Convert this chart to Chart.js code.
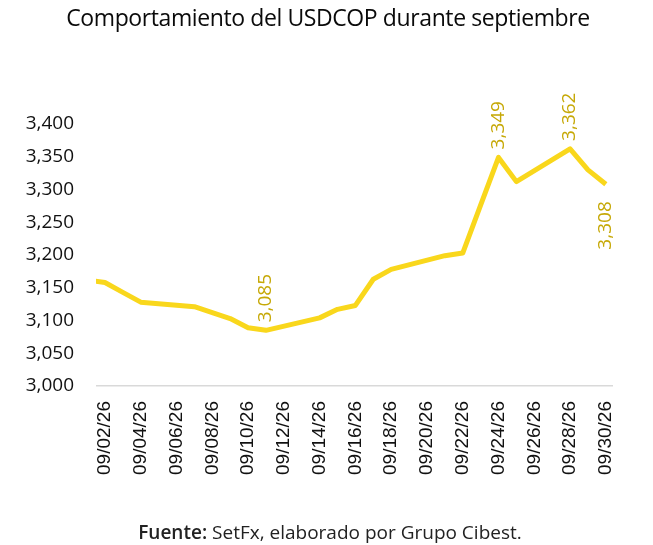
<!DOCTYPE html>
<html>
<head>
<meta charset="utf-8">
<script src="https://cdn.jsdelivr.net/npm/chart.js@4.4.1/dist/chart.umd.min.js"></script>
<style>
  html, body { margin: 0; padding: 0; background: #ffffff; }
  #wrap { position: relative; width: 653px; height: 545px; overflow: hidden; }
  #chart { position: absolute; left: 0; top: 0; }
  #title { position: absolute; left: 0; top: 2px; width: 656px; text-align: center;
           font-family: "Open Sans", sans-serif; font-size: 23px; font-weight: 500; letter-spacing: -0.4px;
           line-height: 30px; color: #0a0a0a; }
  #footer { position: absolute; left: 0; top: 519px; width: 660px; text-align: center;
            font-family: "Open Sans", sans-serif; font-size: 19px; line-height: 26px; color: #222; }
  #footer b { font-weight: 600; }
</style>
</head>
<body>
<div id="wrap">
  <canvas id="chart" width="653" height="545"></canvas>
  <div id="title">Comportamiento del USDCOP durante septiembre</div>
  <div id="footer"><b>Fuente:</b> SetFx, elaborado por Grupo Cibest.</div>
</div>
<script>
// Day of September (2026) and USDCOP close
const days   = [1, 2, 3, 4, 7, 8, 9, 10, 11, 14, 15, 16, 17, 18, 21, 22, 23, 24, 25, 28, 29, 30];
const values = [3162, 3158, 3143, 3128, 3121, 3112, 3103, 3089, 3085, 3104, 3117, 3123, 3163, 3178, 3199, 3203, 3276, 3349, 3312, 3362, 3330, 3308];
// x-axis tick days and labels
const tickDays   = [2, 4, 6, 8, 10, 12, 14, 16, 18, 20, 22, 24, 26, 28, 30];
const tickLabels = ['09/02/26','09/04/26','09/06/26','09/08/26','09/10/26','09/12/26','09/14/26','09/16/26','09/18/26','09/20/26','09/22/26','09/24/26','09/26/26','09/28/26','09/30/26'];
// y-axis ticks
const yTicks = [3000, 3050, 3100, 3150, 3200, 3250, 3300, 3350, 3400];
// days whose value is annotated
const annotatedDays = [11, 24, 28, 30];

const LINE_COLOR = '#F9D71C';
const LABEL_COLOR = '#C6A806';
const fmt = v => v.toLocaleString('en-US');

const valueLabels = {
  id: 'valueLabels',
  afterDatasetsDraw(chart) {
    const meta = chart.getDatasetMeta(0);
    const ctx = chart.ctx;
    const lastDay = days[days.length - 1];
    ctx.save();
    ctx.fillStyle = LABEL_COLOR;
    ctx.font = '19px "Open Sans", sans-serif';
    ctx.textBaseline = 'middle';
    annotatedDays.forEach(d => {
      const i = days.indexOf(d);
      const pt = meta.data[i];
      ctx.save();
      if (d === lastDay) {
        ctx.translate(pt.x, pt.y + 17);
        ctx.rotate(-Math.PI / 2);
        ctx.textAlign = 'right';
      } else {
        ctx.translate(pt.x, pt.y - 8);
        ctx.rotate(-Math.PI / 2);
        ctx.textAlign = 'left';
      }
      ctx.fillText(fmt(values[i]), 0, 0);
      ctx.restore();
    });
    ctx.restore();
  }
};

new Chart(document.getElementById('chart'), {
  type: 'line',
  data: {
    datasets: [{
      data: days.map((d, i) => ({ x: d, y: values[i] })),
      borderColor: LINE_COLOR,
      borderWidth: 5,
      pointRadius: 0,
      tension: 0,
      borderJoinStyle: 'round',
      borderCapStyle: 'butt',
      clip: 0
    }]
  },
  options: {
    responsive: false,
    animation: false,
    layout: { padding: { top: 124, right: 40, bottom: 59, left: 0 } },
    plugins: { legend: { display: false }, tooltip: { enabled: false }, title: { display: false } },
    scales: {
      x: {
        type: 'linear',
        min: 1.5,
        max: 30.4,
        afterBuildTicks: s => { s.ticks = tickDays.map(v => ({ value: v })); },
        afterFit: s => { s.height = 100; },
        grid: { display: false, drawTicks: false },
        border: { display: false },
        ticks: {
          autoSkip: false,
          minRotation: 90,
          maxRotation: 90,
          padding: 15,
          color: '#111',
          font: { family: '"Liberation Sans", Arial, sans-serif', size: 19 },
          callback: v => tickLabels[tickDays.indexOf(v)]
        }
      },
      y: {
        min: 3000,
        max: 3400,
        afterBuildTicks: s => { s.ticks = yTicks.map(v => ({ value: v })); },
        afterFit: s => { s.width = 96; },
        grid: {
          drawTicks: false,
          lineWidth: 1.5,
          color: c => (c.tick && c.tick.value === 3000) ? '#d9d9d9' : 'rgba(0,0,0,0)'
        },
        border: { display: false },
        ticks: {
          padding: 22,
          color: '#111',
          font: { family: '"Open Sans", sans-serif', size: 19 },
          callback: v => fmt(v)
        }
      }
    }
  },
  plugins: [valueLabels]
});
</script>
</body>
</html>
